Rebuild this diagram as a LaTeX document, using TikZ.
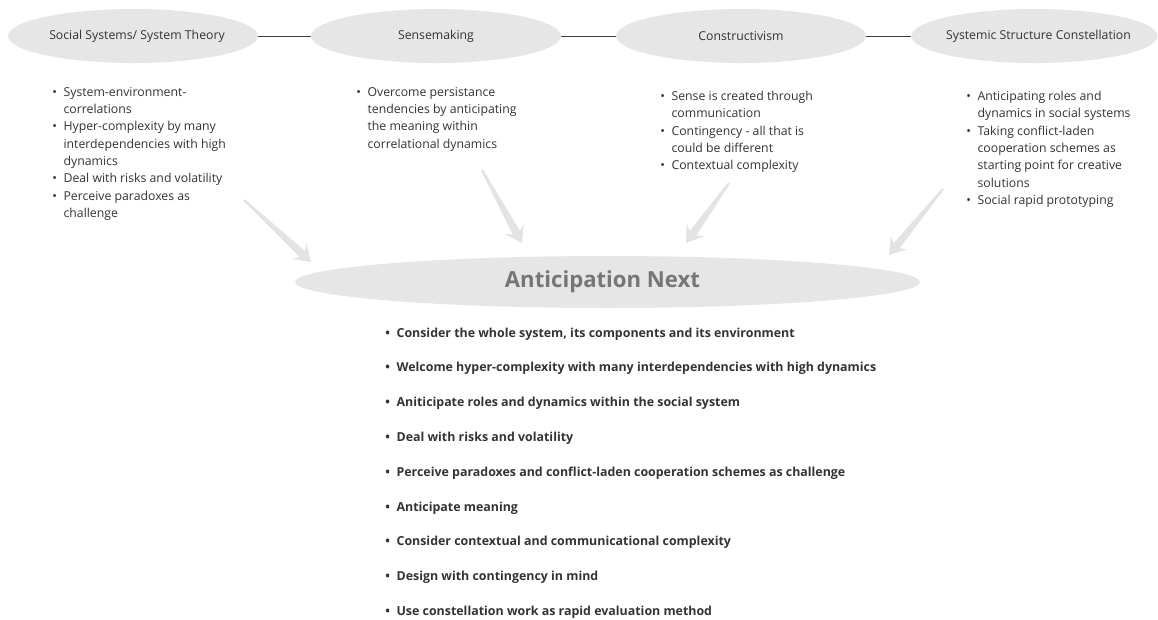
\documentclass[tikz,border=0pt]{standalone}
\usepackage{fontspec}
\setmainfont{Open Sans}
\usetikzlibrary{shapes.geometric,calc}

\definecolor{ovalgray}{HTML}{E6E6E6}
\definecolor{arrowgray}{HTML}{E3E3E3}
\definecolor{textgray}{HTML}{333333}
\definecolor{titlegray}{HTML}{767676}
\definecolor{linegray}{HTML}{404040}

\newcommand{\bul}{\makebox[8.5pt][l]{\textbullet}}
\newcommand{\ind}{\hspace*{8.5pt}}
% tapered block arrow from #1 to #2
\newcommand{\fatarrow}[2]{%
  \coordinate (fa-n) at ($(#2)!9pt!(#1)$);
  \coordinate (fa-b) at ($(#2)!12pt!(#1)$);
  \fill[arrowgray] ($(#1)!0.8pt!90:(#2)$) -- ($(fa-n)!3pt!90:(#2)$) -- ($(fa-b)!8pt!90:(#2)$)
    -- (#2) -- ($(fa-b)!8pt!-90:(#2)$) -- ($(fa-n)!3pt!-90:(#2)$) -- ($(#1)!0.8pt!-90:(#2)$) -- cycle;
}

\tikzset{
  topic/.style={ellipse, fill=ovalgray, inner sep=0pt, minimum width=187.5pt, minimum height=40.5pt},
  toplabel/.style={inner sep=0pt, text=textgray, font=\fontsize{9.2}{11}\selectfont},
  maintitle/.style={inner sep=0pt, text=titlegray, font=\fontsize{16.6}{20}\selectfont\bfseries},
  points/.style={anchor=north west, inner sep=0pt, align=left, text=textgray, font=\fontsize{9.2}{13}\selectfont},
  link/.style={draw=linegray, line width=0.75pt},
}

\begin{document}
\begin{tikzpicture}[x=0.75pt,y=0.75pt,yscale=-1,xscale=1]
\useasboundingbox (0,0) rectangle (1158,619);

%Shape: Ellipse [top row]
\node[topic, label={[toplabel, xshift=3pt]center:Social Systems/ System Theory}] (social) at (133,36) {};
\node[topic, label={[toplabel]center:Sensemaking}] (sense) at (436,36) {};
\node[topic, label={[toplabel]center:Constructivism}] (constr) at (741,36) {};
\node[topic, minimum width=184.5pt, label={[toplabel, xshift=3pt]center:Systemic Structure Constellation}] (constel) at (1034.5,36) {};

%Straight Lines
\draw[link] (social) -- (sense);
\draw[link] (sense) -- (constr);
\draw[link] (constr) -- (constel);

%Shape: Ellipse [main]
\node[topic, minimum width=468.75pt, minimum height=39pt, label={[maintitle, xshift=-3.75pt]center:Anticipation Next}] (next) at (607.5,282) {};

% Text Node
\node[points] (socialpts) at (52,87) {\bul System-environment-\\\ind correlations\\
  \bul Hyper-complexity by many\\\ind interdependencies with high\\\ind dynamics\\
  \bul Deal with risks and volatility\\
  \bul Perceive paradoxes as\\\ind challenge};
% Text Node
\node[points] (sensepts) at (356,87) {\bul Overcome persistance\\\ind tendencies by anticipating\\
  \ind the meaning within\\\ind correlational dynamics};
% Text Node
\node[points] (constrpts) at (660,91) {\bul Sense is created through\\\ind communication\\
  \bul Contingency - all that is\\\ind could be different\\
  \bul Contextual complexity};
% Text Node
\node[points] (constelpts) at (966,91) {\bul Anticipating roles and\\\ind dynamics in social systems\\
  \bul Taking conflict-laden\\\ind cooperation schemes as\\\ind starting point for creative\\\ind solutions\\
  \bul Social rapid prototyping};
% Text Node
\node[points, font={\fontsize{9.3}{26.1}\selectfont\bfseries}] (nextpts) at (385,327.5) {%
  \bul Consider the whole system, its components and its environment\\
  \bul Welcome hyper-complexity with many interdependencies with high dynamics\\
  \bul Aniticipate roles and dynamics within the social system\\
  \bul Deal with risks and volatility\\
  \bul Perceive paradoxes and conflict-laden cooperation schemes as challenge\\
  \bul Anticipate meaning\\
  \bul Consider contextual and communicational complexity\\
  \bul Design with contingency in mind\\
  \bul Use constellation work as rapid evaluation method};

%Block Arrows
\coordinate (from1) at (244,200);
\coordinate (to1) at (311,262);
\coordinate (from2) at (482,170);
\coordinate (to2) at (522,243);
\coordinate (from3) at (729,183);
\coordinate (to3) at (686,243);
\coordinate (from4) at (943,189);
\coordinate (to4) at (889,255);
\fatarrow{from1}{to1}
\fatarrow{from2}{to2}
\fatarrow{from3}{to3}
\fatarrow{from4}{to4}

\end{tikzpicture}
\end{document}
